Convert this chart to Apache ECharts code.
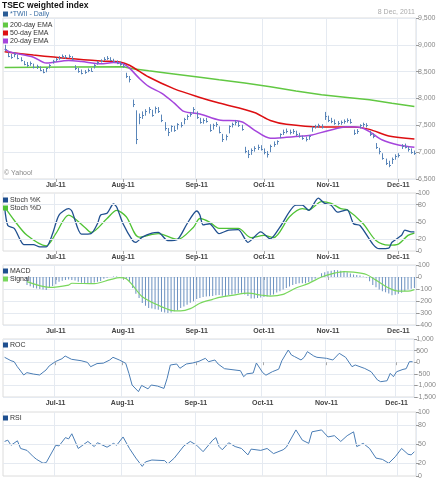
<!DOCTYPE html>
<html>
<head>
<meta charset="utf-8">
<script src="https://cdn.jsdelivr.net/npm/echarts@6/dist/echarts.min.js"></script>
<style>
  html, body { margin: 0; padding: 0; background: #fff; }
  #chart { width: 439px; height: 480px; }
</style>
</head>
<body>
<div id="chart"></div>
<script>
// trading days, Jun 9 - Dec 8 2011 (weekdays, exchange holidays left out)
var firstDay = '2011-06-09';
var lastDay = '2011-12-08';
var holidays = ['2011-09-12', '2011-10-10'];
var monthNames = ['Jan', 'Feb', 'Mar', 'Apr', 'May', 'Jun', 'Jul', 'Aug', 'Sep', 'Oct', 'Nov', 'Dec'];

// daily price bars (high / low / close)
var priceHigh = [
	9000, 8860, 8830, 8860, 8820, 8770, 8700, 8680, 8690, 8650,
	8630, 8600, 8550, 8580, 8640, 8720, 8760, 8790, 8820, 8810,
	8820, 8790, 8620, 8570, 8540, 8530, 8560, 8570, 8640, 8700,
	8730, 8770, 8790, 8770, 8740, 8710, 8690, 8650, 8480, 8420,
	7980, 7780, 7720, 7760, 7800, 7840, 7790, 7850, 7840, 7700,
	7560, 7450, 7500, 7490, 7540, 7560, 7640, 7700, 7750, 7840,
	7760, 7640, 7630, 7640, 7520, 7530, 7560, 7480, 7340, 7330,
	7500, 7550, 7600, 7580, 7510, 7100, 7040, 7070, 7110, 7140,
	7130, 7070, 7020, 7140, 7200, 7220, 7350, 7420, 7440, 7420,
	7430, 7400, 7360, 7310, 7290, 7320, 7480, 7510, 7530, 7520,
	7750, 7680, 7640, 7610, 7580, 7590, 7610, 7630, 7620, 7420,
	7430, 7520, 7550, 7540, 7400, 7350, 7170, 7080, 6980, 6880,
	6840, 6900, 6960, 6980, 7150, 7160, 7110, 7070, 7030
];
var priceLow = [
	8880, 8770, 8740, 8770, 8730, 8690, 8620, 8590, 8610, 8560,
	8550, 8510, 8470, 8490, 8560, 8650, 8690, 8720, 8750, 8740,
	8750, 8710, 8530, 8480, 8450, 8460, 8490, 8500, 8560, 8630,
	8670, 8700, 8720, 8700, 8670, 8640, 8610, 8570, 8380, 8300,
	7840, 7150, 7520, 7620, 7680, 7720, 7660, 7720, 7730, 7560,
	7400, 7300, 7380, 7380, 7420, 7460, 7520, 7600, 7660, 7720,
	7620, 7530, 7530, 7550, 7380, 7420, 7470, 7350, 7190, 7220,
	7350, 7460, 7500, 7470, 7400, 6980, 6890, 6950, 7010, 7040,
	7030, 6960, 6900, 7000, 7100, 7140, 7260, 7320, 7350, 7330,
	7340, 7300, 7270, 7230, 7200, 7230, 7380, 7440, 7450, 7440,
	7600, 7560, 7540, 7510, 7500, 7510, 7530, 7550, 7530, 7320,
	7340, 7440, 7470, 7460, 7300, 7260, 7060, 6960, 6860, 6760,
	6720, 6780, 6860, 6900, 7060, 7070, 7010, 6970, 6950
];
var priceClose = [
	8920, 8800, 8780, 8830, 8760, 8720, 8650, 8620, 8660, 8580,
	8600, 8540, 8500, 8560, 8620, 8700, 8730, 8760, 8790, 8770,
	8790, 8740, 8560, 8520, 8480, 8500, 8540, 8520, 8620, 8680,
	8700, 8740, 8760, 8720, 8700, 8660, 8640, 8600, 8420, 8360,
	7900, 7250, 7650, 7700, 7760, 7800, 7700, 7820, 7760, 7600,
	7450, 7380, 7480, 7420, 7520, 7500, 7620, 7680, 7720, 7800,
	7660, 7560, 7600, 7580, 7420, 7500, 7520, 7380, 7250, 7300,
	7480, 7520, 7560, 7500, 7440, 7020, 6960, 7040, 7080, 7100,
	7060, 7000, 6960, 7120, 7160, 7200, 7330, 7380, 7400, 7370,
	7390, 7330, 7300, 7260, 7240, 7300, 7460, 7480, 7500, 7470,
	7680, 7600, 7580, 7550, 7540, 7560, 7580, 7600, 7570, 7360,
	7400, 7500, 7520, 7500, 7340, 7300, 7100, 7020, 6900, 6800,
	6760, 6870, 6920, 6950, 7120, 7100, 7060, 7000, 6990
];

// moving averages, read at trading-day positions
var ema200Day = [0, 20, 37, 40, 45, 51, 61, 67, 75, 83, 91, 99, 107, 114, 121, 128];
var ema200 = [8578, 8585, 8590, 8555, 8515, 8471, 8396, 8350, 8290, 8221, 8140, 8070, 8020, 7975, 7910, 7850];
var ema50Day = [0, 9, 20, 30, 36, 39, 45, 53, 61, 67, 78, 83, 88, 99, 109, 114, 120, 128];
var ema50 = [8870, 8810, 8745, 8700, 8682, 8620, 8400, 8180, 8020, 7915, 7740, 7590, 7520, 7470, 7468, 7425, 7300, 7245];
var ema20Day = [0, 2, 9, 13, 20, 24, 30, 34, 37, 39, 42, 45, 49, 53, 56, 61, 67, 74, 78, 83, 88, 93, 96, 101, 107, 111, 114, 118, 123, 128];
var ema20 = [8920, 8860, 8770, 8660, 8710, 8690, 8648, 8670, 8645, 8565, 8380, 8225, 8100, 7915, 7760, 7712, 7600, 7568, 7412, 7258, 7277, 7300, 7320, 7400, 7475, 7463, 7382, 7226, 7133, 7090];

// stochastics
var stochKDay = [0, 1, 3, 5, 6, 9, 11, 13, 15, 17, 20, 21, 24, 27, 29, 30, 32, 34, 35, 37, 40, 41, 43, 46, 48, 51, 54, 57, 60, 61, 62, 64, 67, 70, 73, 76, 80, 83, 86, 91, 93, 95, 98, 100, 102, 104, 107, 109, 111, 115, 117, 120, 121, 124, 125, 127, 128];
var stochK = [76, 44, 39, 18, 11, 11, 7, 7, 30, 62, 73, 69, 29, 30, 47, 62, 65, 81, 76, 47, 18, 15, 24, 31, 32, 18, 20, 47, 69, 62, 45, 47, 30, 36, 37, 15, 33, 21, 41, 79, 79, 70, 91, 82, 79, 67, 71, 47, 44, 12, 4, 5, 15, 27, 36, 33, 33];
var stochDDay = [0, 3, 7, 13, 16, 20, 25, 27, 32, 35, 38, 42, 48, 54, 59, 61, 64, 67, 73, 77, 81, 84, 89, 93, 95, 99, 102, 105, 107, 112, 116, 120, 123, 126, 128];
var stochD = [76, 53, 27, 9, 30, 62, 41, 32, 56, 70, 59, 24, 30, 20, 41, 56, 50, 39, 39, 23, 27, 23, 59, 73, 71, 85, 82, 73, 71, 47, 18, 10, 12, 27, 31];

// MACD (daily bars) and signal line
var macd = [
	null, null, null, null, null, null, null, -67, -78, -89,
	-95, -100, -105, -108, -89, -75, -61, -40, -32, -25,
	-20, -24, -30, -40, -47, -53, -56, -58, -45, -40,
	-33, -14, -6, 0, 4, 5, 0, -6, -14, -40,
	-92, -140, -175, -217, -240, -258, -262, -268, -272, -289,
	-296, -300, -295, -286, -278, -258, -245, -231, -215, -203,
	-183, -175, -167, -162, -160, -158, -152, -150, -156, -158,
	-150, -145, -140, -135, -132, -145, -158, -179, -180, -176,
	-171, -167, -163, -155, -145, -130, -118, -105, -92, -80,
	-66, -58, -53, -52, -53, -42, -32, -15, 0, 32,
	40, 47, 53, 58, 56, 53, 47, 40, 30, 21,
	16, 13, 5, -5, -35, -66, -85, -105, -118, -128,
	-137, -153, -148, -140, -132, -118, -105, -98, -92
];
var signalDay = [7, 14, 20, 21, 28, 33, 36, 38, 40, 43, 48, 52, 55, 58, 61, 65, 67, 71, 76, 80, 83, 87, 91, 95, 99, 103, 106, 109, 113, 116, 120, 123, 126, 128];
var signal = [-39, -86, -67, -52, -56, -22, -6, -14, -69, -164, -236, -278, -283, -264, -219, -186, -170, -153, -135, -150, -160, -145, -92, -53, 0, 32, 45, 40, 21, -26, -92, -118, -118, -105];

// rate of change
var rocDay = [0, 2, 3, 4, 6, 7, 9, 11, 13, 14, 16, 18, 19, 21, 24, 26, 27, 29, 31, 33, 34, 36, 38, 39, 40, 42, 43, 45, 46, 48, 50, 51, 52, 54, 55, 57, 59, 61, 63, 64, 66, 67, 69, 74, 75, 76, 78, 79, 81, 82, 84, 86, 87, 89, 90, 91, 93, 94, 95, 97, 98, 101, 103, 105, 107, 109, 110, 113, 115, 117, 118, 120, 121, 122, 123, 125, 126, 127, 128];
var roc = [211, 65, 22, -194, -552, -450, -510, -550, -336, -160, 30, 150, 267, 125, 65, -8, -194, -60, -40, 95, 211, 95, -47, -480, -983, -1270, -1000, -1150, -983, -1030, -1130, -695, -121, -78, -263, -78, -35, 40, 167, 22, 95, -78, -280, -366, -625, -500, -466, -35, -452, -560, -410, -300, 65, 526, 310, 240, 95, 211, 455, 267, 211, 167, 95, 383, 211, -194, -120, -270, -410, -767, -840, -800, -480, -625, -410, -310, -280, 22, 22];

// relative strength index
var rsiDay = [0, 1, 2, 4, 5, 7, 9, 10, 12, 13, 16, 17, 19, 20, 21, 23, 26, 28, 29, 32, 34, 35, 37, 39, 41, 43, 44, 46, 50, 51, 53, 56, 58, 60, 62, 65, 66, 67, 68, 70, 72, 74, 76, 77, 80, 82, 84, 87, 88, 91, 93, 95, 96, 99, 101, 103, 105, 107, 109, 110, 112, 114, 116, 118, 120, 122, 124, 126, 127, 128];
var rsi = [54, 56, 48, 55, 43, 40, 30, 26, 20, 21, 48, 47, 60, 58, 66, 43, 54, 46, 52, 45, 51, 48, 61, 43, 28, 15, 22, 25, 24, 19, 28, 47, 54, 48, 38, 56, 60, 46, 41, 52, 46, 43, 33, 42, 40, 43, 35, 41, 45, 72, 56, 51, 69, 72, 61, 63, 54, 63, 69, 46, 51, 43, 28, 26, 20, 30, 43, 34, 33, 38];

var days = [];
(function () {
	var d = new Date(firstDay + 'T00:00:00Z');
	var end = new Date(lastDay + 'T00:00:00Z');
	while (d <= end) {
		var s = d.toISOString().slice(0, 10);
		var wd = d.getUTCDay();
		if (wd !== 0 && wd !== 6 && holidays.indexOf(s) < 0) days.push(s);
		d.setUTCDate(d.getUTCDate() + 1);
	}
})();

function pairs(idx, vals) {
	return idx.map(function (d, k) { return [d, vals[k]]; });
}

function monthStart(index) {
	return index > 0 && days[index].slice(5, 7) !== days[index - 1].slice(5, 7);
}

function monthLabel(value) {
	var m = parseInt(value.slice(5, 7), 10) - 1;
	return monthNames[m] + '-' + value.slice(2, 4);
}

function addCommas(v) {
	return String(v).replace(/\B(?=(\d{3})+(?!\d))/g, ',');
}

var chart = echarts.init(document.getElementById('chart'));

var gridLine = '#e5eaf1';
var grids = [
	{ left: 3, right: 23, top: 18, height: 161 },
	{ left: 3, right: 23, top: 193, height: 58 },
	{ left: 3, right: 23, top: 265, height: 60 },
	{ left: 3, right: 23, top: 339, height: 58 },
	{ left: 3, right: 23, top: 412, height: 64 }
];
grids.forEach(function (g) {
	g.show = true;
	g.borderColor = '#dcdcdc';
	g.borderWidth = 1;
});

var xAxes = grids.map(function (g, k) {
	return {
		type: 'category',
		gridIndex: k,
		data: days,
		boundaryGap: true,
		axisLine: { show: false },
		axisTick: { show: k < 4, interval: monthStart, length: 3, alignWithLabel: true, lineStyle: { color: '#aaa' } },
		axisLabel: {
			show: k < 4,
			interval: monthStart,
			formatter: monthLabel,
			fontSize: 7,
			fontWeight: 'bold',
			color: '#444',
			margin: 3
		},
		splitLine: { show: true, interval: monthStart, lineStyle: { color: gridLine } }
	};
});

function yAxis(k, min, max, interval, extra) {
	var ax = {
		type: 'value',
		gridIndex: k,
		position: 'right',
		min: min,
		max: max,
		interval: interval,
		axisLine: { show: false },
		axisTick: { show: true, length: 3, lineStyle: { color: '#999' } },
		axisLabel: {
			fontSize: 7,
			color: '#888',
			margin: 2,
			formatter: function (v) { return addCommas(v); }
		},
		splitLine: { show: true, lineStyle: { color: gridLine } }
	};
	return Object.assign(ax, extra || {});
}

var fiveLevels = [0, 20, 50, 80, 100];
var levelAxis = {
	axisTick: { show: true, length: 3, customValues: fiveLevels, lineStyle: { color: '#999' } },
	axisLabel: { fontSize: 7, color: '#888', margin: 2, customValues: fiveLevels },
	splitLine: { show: false }
};

var yAxes = [
	yAxis(0, 6500, 9500, 500),
	yAxis(1, 0, 100, 10, levelAxis),
	yAxis(2, -400, 100, 100),
	yAxis(3, -1500, 1000, 500),
	yAxis(4, 0, 100, 10, levelAxis)
];

var levelLines = {
	silent: true,
	symbol: 'none',
	label: { show: false },
	lineStyle: { color: gridLine, type: 'solid', width: 1 },
	data: [{ yAxis: 20 }, { yAxis: 50 }, { yAxis: 80 }]
};

var barColor = '#5a86b9';
var darkBlue = '#1f4f8f';
var ohlc = days.map(function (d, i) {
	return [i, priceHigh[i], priceLow[i], priceClose[i]];
});

var legendBase = {
	icon: 'rect',
	itemWidth: 5,
	itemHeight: 5,
	itemGap: 0,
	padding: 0,
	left: 3,
	orient: 'vertical',
	selectedMode: false,
	textStyle: { fontSize: 7, lineHeight: 8, color: '#333', padding: [0, 0, 0, -3] }
};
function legend(names, top, extra) {
	return Object.assign({}, legendBase, { data: names, top: top }, extra || {});
}

var option = {
	animation: false,
	textStyle: { fontFamily: 'Liberation Sans' },
	title: {
		text: 'TSEC weighted index',
		left: 2,
		top: 1,
		padding: 0,
		textStyle: { fontSize: 8.5, fontWeight: 'bold', color: '#111' }
	},
	legend: [
		legend(['*TWII - Daily'], 10, { textStyle: { fontSize: 7, lineHeight: 8, color: '#3a6ea5', padding: [0, 0, 0, -3] } }),
		legend(['200-day EMA', '50-day EMA', '20-day EMA'], 21),
		legend(['Stoch %K', 'Stoch %D'], 196),
		legend([{ name: 'MACD', itemStyle: { color: darkBlue } }, 'Signal'], 267),
		legend([{ name: 'ROC', itemStyle: { color: darkBlue } }], 341),
		legend([{ name: 'RSI', itemStyle: { color: darkBlue } }], 414)
	],
	graphic: [
		{ type: 'text', right: 24, top: 9, style: { text: '8 Dec, 2011', fontSize: 7, fill: '#aaa', fontFamily: 'Liberation Sans' } },
		{ type: 'text', left: 4, top: 170, style: { text: '\u00a9 Yahoo!', fontSize: 7, fill: '#888', fontFamily: 'Liberation Sans' } }
	],
	grid: grids,
	xAxis: xAxes,
	yAxis: yAxes,
	series: [
		{
			name: '200-day EMA', type: 'line', xAxisIndex: 0, yAxisIndex: 0,
			data: pairs(ema200Day, ema200), showSymbol: false, color: '#62c843',
			lineStyle: { width: 1.5 }, z: 2
		},
		{
			name: '50-day EMA', type: 'line', xAxisIndex: 0, yAxisIndex: 0,
			data: pairs(ema50Day, ema50), showSymbol: false, smooth: 0.3, color: '#dd0f12',
			lineStyle: { width: 1.5 }, z: 2
		},
		{
			name: '20-day EMA', type: 'line', xAxisIndex: 0, yAxisIndex: 0,
			data: pairs(ema20Day, ema20), showSymbol: false, smooth: 0.3, color: '#a545dc',
			lineStyle: { width: 1.5 }, z: 3
		},
		{
			name: '*TWII - Daily', type: 'custom', xAxisIndex: 0, yAxisIndex: 0,
			color: '#2b5d96',
			data: ohlc,
			encode: { x: 0, y: [1, 2, 3] },
			z: 4,
			renderItem: function (params, api) {
				var hi = api.coord([api.value(0), api.value(1)]);
				var lo = api.coord([api.value(0), api.value(2)]);
				var cl = api.coord([api.value(0), api.value(3)]);
				var x = Math.round(hi[0]) + 0.5;
				return {
					type: 'group',
					children: [
						{ type: 'line', shape: { x1: x, y1: hi[1], x2: x, y2: lo[1] }, style: { stroke: barColor, lineWidth: 1 } },
						{ type: 'line', shape: { x1: x, y1: Math.round(cl[1]) + 0.5, x2: x + 1.5, y2: Math.round(cl[1]) + 0.5 }, style: { stroke: barColor, lineWidth: 1 } }
					]
				};
			}
		},
		{
			name: 'Stoch %K', type: 'line', xAxisIndex: 1, yAxisIndex: 1,
			data: pairs(stochKDay, stochK), showSymbol: false, smooth: 0.25, color: darkBlue,
			lineStyle: { width: 1.3 }, markLine: levelLines, z: 3
		},
		{
			name: 'Stoch %D', type: 'line', xAxisIndex: 1, yAxisIndex: 1,
			data: pairs(stochDDay, stochD), showSymbol: false, smooth: 0.3, color: '#4fc234',
			lineStyle: { width: 1.3 }, z: 2
		},
		{
			name: 'MACD', type: 'bar', xAxisIndex: 2, yAxisIndex: 2,
			data: macd, barWidth: 1, color: '#6b91c0'
		},
		{
			name: 'Signal', type: 'line', xAxisIndex: 2, yAxisIndex: 2,
			data: pairs(signalDay, signal), showSymbol: false, smooth: 0.3, color: '#79d75c',
			lineStyle: { width: 1.2 }
		},
		{
			name: 'ROC', type: 'line', xAxisIndex: 3, yAxisIndex: 3,
			data: pairs(rocDay, roc), showSymbol: false, color: '#4a7db5',
			lineStyle: { width: 1 }
		},
		{
			name: 'RSI', type: 'line', xAxisIndex: 4, yAxisIndex: 4,
			data: pairs(rsiDay, rsi), showSymbol: false, color: '#4a7db5',
			lineStyle: { width: 1 }, markLine: levelLines
		}
	]
};

chart.setOption(option);
</script>
</body>
</html>
